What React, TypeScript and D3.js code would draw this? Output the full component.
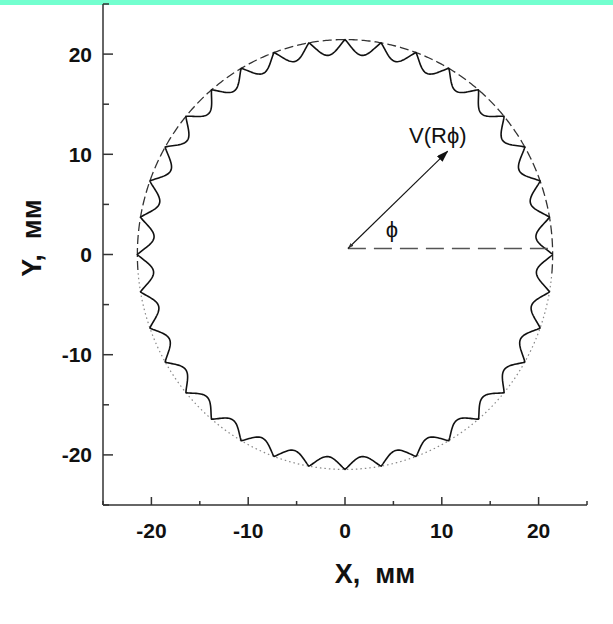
import React from "react";
import * as d3 from "d3";

// ---- data ----
const xDomain = [-25, 25];
const yDomain = [-25, 25];
const majorTicks = [-20, -10, 0, 10, 20];
const minorTicks = [-25, -15, -5, 5, 15, 25];
const circleRadius = 21.45; // mm, envelope circle
// depth (mm) of each of the 36 arches, counter-clockwise from phi = 0
const archDepth = [
  1.65, 1.62, 1.6, 1.58, 1.55, 1.52, 1.5, 1.5, 1.5,
  1.5, 1.5, 1.5, 1.52, 1.55, 1.58, 1.6, 1.62, 1.65,
  1.6, 1.52, 1.45, 1.38, 1.32, 1.28, 1.24, 1.2, 1.2,
  1.2, 1.2, 1.24, 1.28, 1.32, 1.38, 1.45, 1.52, 1.6,
];
const dashedRange = [-5, 185]; // degrees, upper part of envelope drawn dashed
const arrowFrom = [0.3, 0.6];
const arrowTo = [10.6, 10.3];
const refLineEndX = 21.45;

const W = 613;
const H = 624;

export default function App() {
  const x = d3.scaleLinear().domain(xDomain).range([103, 587]);
  const y = d3.scaleLinear().domain(yDomain).range([505, 4]);
  const line = d3
    .line<[number, number]>()
    .x((d) => x(d[0]))
    .y((d) => y(d[1]));

  // wavy contour
  const N = archDepth.length;
  const step = (2 * Math.PI) / N;
  const wavePts: [number, number][] = [];
  const sub = 30;
  archDepth.forEach((dep, k) => {
    for (let j = 0; j < sub; j++) {
      const t = j / sub;
      const th = (k + t) * step;
      const r = circleRadius - dep * Math.pow(Math.sin(Math.PI * t), 1.1);
      wavePts.push([r * Math.cos(th), r * Math.sin(th)]);
    }
  });
  wavePts.push([circleRadius, 0]);

  const arc = (a0: number, a1: number) => {
    const pts: [number, number][] = [];
    const n = 400;
    for (let i = 0; i <= n; i++) {
      const th = ((a0 + ((a1 - a0) * i) / n) * Math.PI) / 180;
      pts.push([circleRadius * Math.cos(th), circleRadius * Math.sin(th)]);
    }
    return line(pts) as string;
  };

  const tickFont = "'Liberation Sans', Arial, sans-serif";

  return (
    <svg
      width={W}
      height={H}
      style={{ position: "absolute", left: 0, top: 0, background: "#fff" }}
    >
      <defs>
        <marker
          id="ah"
          viewBox="0 0 12 8"
          refX="11"
          refY="4"
          markerWidth="12"
          markerHeight="8"
          markerUnits="userSpaceOnUse"
          orient="auto"
        >
          <path d="M0,0 L12,4 L0,8 Z" fill="#111" />
        </marker>
        <marker
          id="at"
          viewBox="0 0 6 4"
          refX="0"
          refY="2"
          markerWidth="6"
          markerHeight="4"
          markerUnits="userSpaceOnUse"
          orient="auto"
        >
          <path d="M6,0 L0,2 L6,4 Z" fill="#333" />
        </marker>
      </defs>
      <rect x={0} y={0} width={W} height={5} fill="#73FFCF" />

      {/* envelope circle */}
      <path
        d={arc(dashedRange[0], dashedRange[1])}
        fill="none"
        stroke="#333"
        strokeWidth={1.3}
        strokeDasharray="9,4"
      />
      <path
        d={arc(dashedRange[1], 360 + dashedRange[0])}
        fill="none"
        stroke="#888"
        strokeWidth={1.2}
        strokeDasharray="1.5,3"
      />

      {/* wavy contour */}
      <path
        d={line(wavePts) as string}
        fill="none"
        stroke="#111"
        strokeWidth={1.6}
        strokeLinejoin="round"
      />

      {/* reference dashed line and vector */}
      <line
        x1={x(arrowFrom[0])}
        y1={y(arrowFrom[1])}
        x2={x(refLineEndX)}
        y2={y(arrowFrom[1])}
        stroke="#555"
        strokeWidth={1.3}
        strokeDasharray="18,8"
      />
      <line
        x1={x(arrowFrom[0])}
        y1={y(arrowFrom[1])}
        x2={x(arrowTo[0])}
        y2={y(arrowTo[1])}
        stroke="#111"
        strokeWidth={1.1}
        markerEnd="url(#ah)"
        markerStart="url(#at)"
      />
      <text x={409} y={143} fontFamily={tickFont} fontSize={22} fill="#111">
        V(Rϕ)
      </text>
      <text
        x={392}
        y={237}
        fontFamily={tickFont}
        fontSize={22}
        fill="#111"
        textAnchor="middle"
      >
        ϕ
      </text>

      {/* axes */}
      <g stroke="#333" strokeWidth={1.5} fill="none">
        <line x1={x(xDomain[0])} y1={y(yDomain[0])} x2={x(xDomain[1])} y2={y(yDomain[0])} />
        <line x1={x(xDomain[0])} y1={y(yDomain[0])} x2={x(xDomain[0])} y2={y(yDomain[1])} />
        {majorTicks.map((t) => (
          <line key={"xm" + t} x1={x(t)} x2={x(t)} y1={y(yDomain[0])} y2={y(yDomain[0]) - 8} />
        ))}
        {minorTicks.map((t) => (
          <line key={"xn" + t} x1={x(t)} x2={x(t)} y1={y(yDomain[0])} y2={y(yDomain[0]) - 4} />
        ))}
        {majorTicks.map((t) => (
          <line key={"ym" + t} x1={x(xDomain[0])} x2={x(xDomain[0]) + 10} y1={y(t)} y2={y(t)} />
        ))}
        {minorTicks.map((t) => (
          <line key={"yn" + t} x1={x(xDomain[0])} x2={x(xDomain[0]) + 6} y1={y(t)} y2={y(t)} />
        ))}
      </g>
      <g fontFamily={tickFont} fontWeight="bold" fontSize={21} fill="#111">
        {majorTicks.map((t) => (
          <text key={"xl" + t} x={x(t)} y={538} textAnchor="middle">
            {t}
          </text>
        ))}
        {majorTicks.map((t) => (
          <text key={"yl" + t} x={92} y={y(t) + 7.5} textAnchor="end">
            {t}
          </text>
        ))}
      </g>
      <text
        x={375}
        y={583}
        textAnchor="middle"
        fontFamily={tickFont}
        fontWeight="bold"
        fontSize={27}
        fill="#111"
        style={{ whiteSpace: "pre" }}
      >
        {"X,  мм"}
      </text>
      <text
        transform="translate(41,238) rotate(-90)"
        textAnchor="middle"
        fontFamily={tickFont}
        fontWeight="bold"
        fontSize={27}
        fill="#111"
        style={{ whiteSpace: "pre" }}
      >
        {"Y,  мм"}
      </text>
    </svg>
  );
}
